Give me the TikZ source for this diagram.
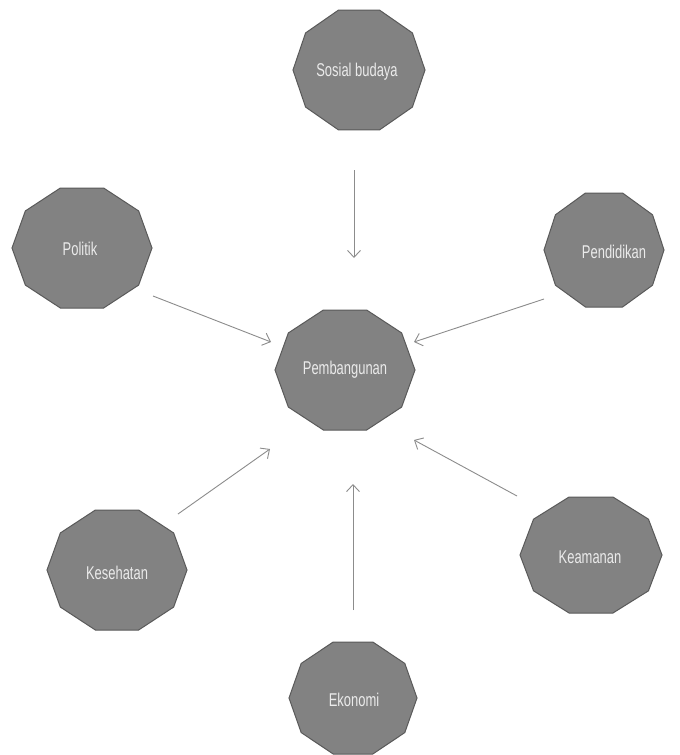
\documentclass[tikz,border=0pt]{standalone}
\usepackage{fontspec}
\setmainfont{Liberation Sans}[FakeStretch=0.7]
\usetikzlibrary{arrows.meta}
\definecolor{shapefill}{HTML}{828282}
\definecolor{shapeline}{HTML}{5A5A5A}
\definecolor{arrowcol}{HTML}{8C8C8C}
\definecolor{labelcol}{HTML}{EBEBEB}
\newcommand{\decagon}[4]{% cx, cy, half-width, half-height
  \fill[shapefill,draw=shapeline,line width=1pt]
    (#1+#3,#2)
    \foreach \k in {1,...,9}{ -- ({#1+#3*cos(36*\k)},{#2-#4/sin(72)*sin(36*\k)}) } -- cycle;
}
\tikzset{
  lbl/.style={text=labelcol,font=\fontsize{18.5}{20}\selectfont,inner sep=0pt},
  arr/.style={draw=arrowcol,line width=0.9pt,-{Straight Barb[length=7pt,width=13pt]}}
}
\begin{document}
\begin{tikzpicture}[x=1pt,y=-1pt]
\useasboundingbox[fill=white] (0,0) rectangle (680,755);
% shapes
\decagon{359}{70}{66}{60}
\decagon{345}{370}{70}{60}
\decagon{82}{248}{70}{60}
\decagon{604}{250}{60}{57}
\decagon{117}{570}{70}{60}
\decagon{591}{555}{71}{58}
\decagon{353}{698}{64}{56}
% labels
\node[lbl] (sosial) at (357,72) {Sosial budaya};
\node[lbl] (pemb) at (345,370) {Pembangunan};
\node[lbl] (politik) at (80,249) {Politik};
\node[lbl] (pend) at (614,252) {Pendidikan};
\node[lbl] (kes) at (117,573) {Kesehatan};
\node[lbl] (keam) at (590,557) {Keamanan};
\node[lbl] (eko) at (354,700) {Ekonomi};
% connector end points
\coordinate (sosialA) at (354,170);
\coordinate (sosialB) at (354,258);
\coordinate (politikA) at (153,296);
\coordinate (politikB) at (271,342);
\coordinate (pendA) at (544,299);
\coordinate (pendB) at (414,342);
\coordinate (kesA) at (178,514);
\coordinate (kesB) at (270,449);
\coordinate (keamA) at (517,496);
\coordinate (keamB) at (414,440);
\coordinate (ekoA) at (353,610);
\coordinate (ekoB) at (353,484);
% connectors
\draw[arr] (sosialA) -- (sosialB);
\draw[arr] (politikA) -- (politikB);
\draw[arr] (pendA) -- (pendB);
\draw[arr] (kesA) -- (kesB);
\draw[arr] (keamA) -- (keamB);
\draw[arr] (ekoA) -- (ekoB);
\end{tikzpicture}
\end{document}
